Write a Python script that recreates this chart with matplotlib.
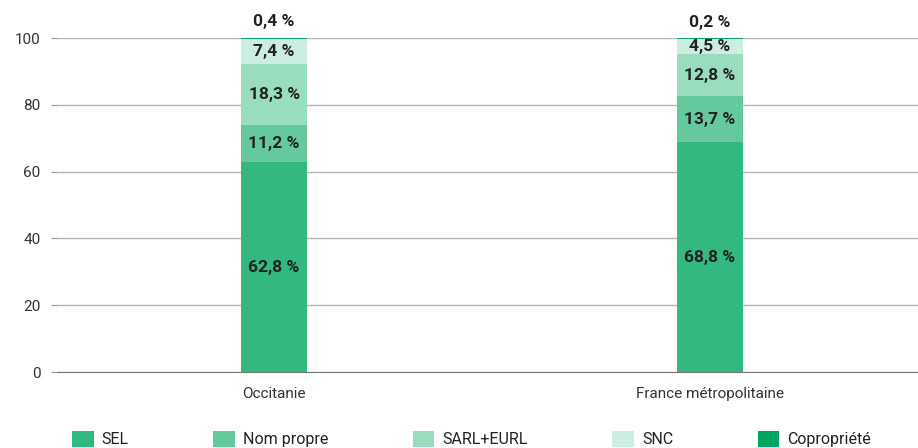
import matplotlib
matplotlib.use("Agg")
import matplotlib.pyplot as plt
import numpy as np

plt.rcParams['font.family'] = ['Roboto', 'DejaVu Sans']

categories = ["Occitanie", "France métropolitaine"]
series = ["SEL", "Nom propre", "SARL+EURL", "SNC", "Copropriété"]
values = {
    "SEL": [62.8, 68.8],
    "Nom propre": [11.2, 13.7],
    "SARL+EURL": [18.3, 12.8],
    "SNC": [7.4, 4.5],
    "Copropriété": [0.4, 0.2],
}
colors = ["#33b87f", "#66c99d", "#99dcbe", "#cceee0", "#00a562"]
yticks = [0, 20, 40, 60, 80, 100]

fig = plt.figure(figsize=(9.18, 4.48), dpi=100)
ax = fig.add_axes([57/918, 1 - 372/448, 1 - 57/918, (372 - 38)/448])

x = np.arange(len(categories))
bottom = np.zeros(len(categories))
width = 0.15
for s, c in zip(series, colors):
    v = np.array(values[s])
    ax.bar(x, v, width, bottom=bottom, color=c, label=s, zorder=3)
    for xi, b, vi in zip(x, bottom, v):
        txt = f"{vi:.1f}".replace(".", ",") + "\u202f%"
        if s == "Copropriété":
            ax.text(xi, b + vi + 2.5, txt, ha="center", va="bottom", fontsize=12.5,
                    fontweight="bold", color="#222222", clip_on=False, zorder=5)
        else:
            ax.text(xi, b + vi / 2, txt, ha="center", va="center", fontsize=12.5,
                    fontweight="bold", color="#222222", zorder=5)
    bottom += v

ax.set_xlim(-0.498, 1.477)
ax.set_ylim(0, 100)
ax.set_yticks(yticks)
ax.set_yticklabels([str(t) for t in yticks], fontsize=11, color="#333333")
ax.set_xticks(x)
ax.set_xticklabels(categories, fontsize=11, color="#333333")
ax.tick_params(axis="y", length=4, color="#999999", pad=8)
ax.tick_params(axis="x", length=0, pad=11)
ax.yaxis.grid(True, color="#b5b5b5", linewidth=1, zorder=0)
for sp in ["top", "right", "left"]:
    ax.spines[sp].set_visible(False)
ax.spines["bottom"].set_color("#777777")
ax.spines["bottom"].set_zorder(4)

leg = fig.legend(loc="center left", bbox_to_anchor=(72/918, 1 - 439/448), ncol=5,
                 frameon=False, fontsize=11.5, handlelength=1.35, handleheight=1.2,
                 handletextpad=0.5, columnspacing=5.3, borderaxespad=0, borderpad=0)
for t in leg.get_texts():
    t.set_color("#222222")

fig.savefig("out.png", dpi=100)
